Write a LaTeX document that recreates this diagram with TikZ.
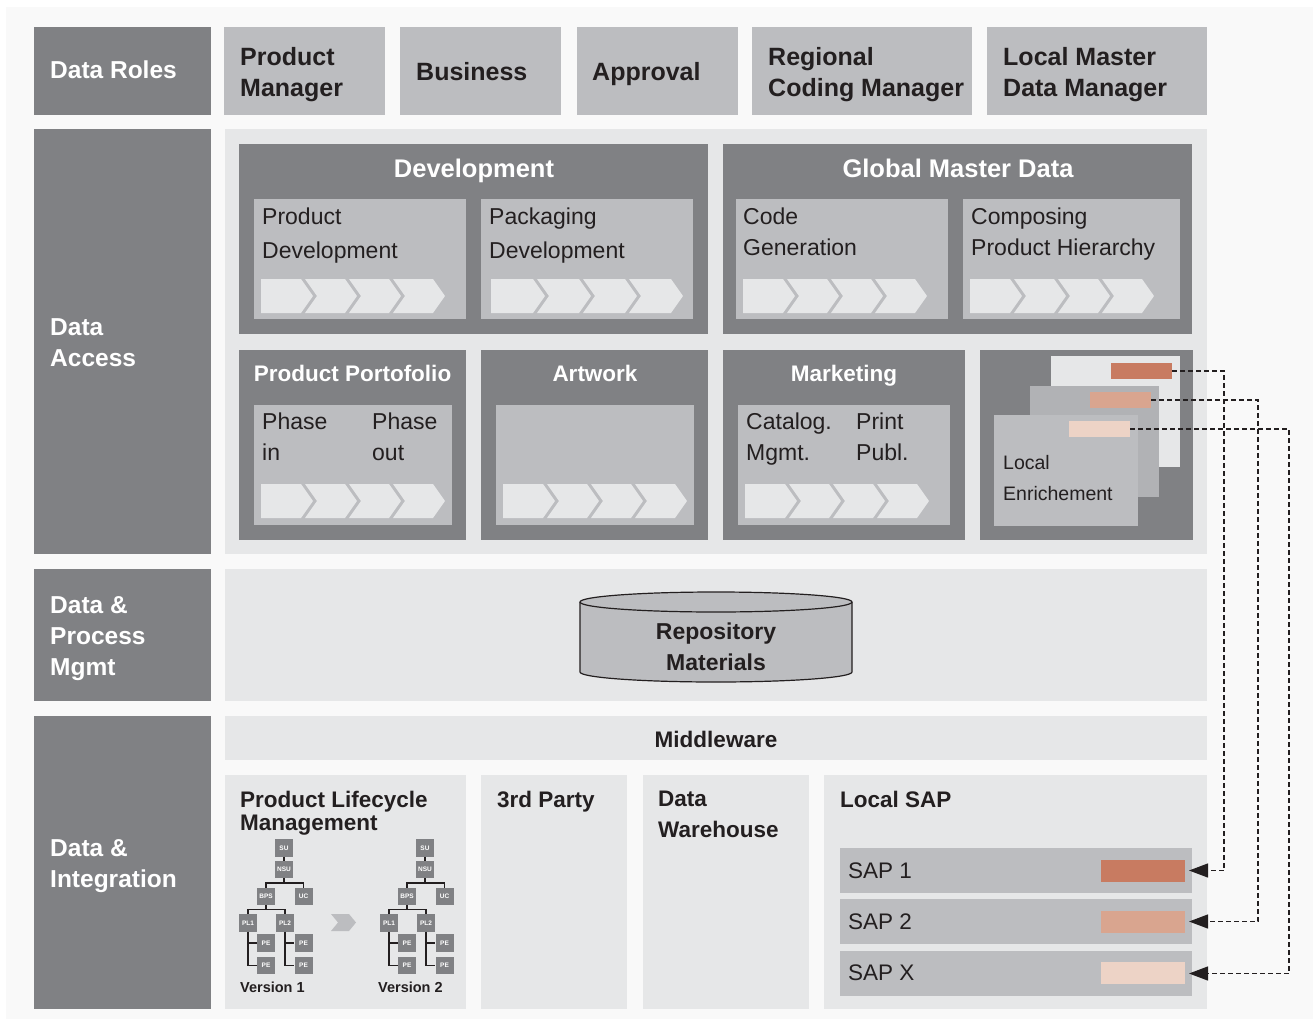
\documentclass[tikz,border=0pt]{standalone}
\usepackage{fontspec}
\setmainfont{Liberation Sans}
\usetikzlibrary{arrows.meta}

\definecolor{darkgrey}{HTML}{808184}
\definecolor{midgrey}{HTML}{BCBDC0}
\definecolor{sheetgrey}{HTML}{B1B2B5}
\definecolor{lightgrey}{HTML}{E6E7E8}
\definecolor{pagegrey}{HTML}{F9F9F9}
\definecolor{ink}{HTML}{231F20}
\definecolor{rustA}{HTML}{C87B61}
\definecolor{rustB}{HTML}{D9A58F}
\definecolor{rustC}{HTML}{EDD3C6}

\newcommand{\fsz}[2]{\fontsize{#1}{#2}\selectfont}

% row of four process chevrons: left x, top y, step
\newcommand{\chevrons}[3]{%
  \foreach \k in {0,1,2,3}{%
    \pgfmathsetmacro{\cx}{#1+#3*\k}%
    \ifnum\k=0
      \fill[lightgrey] (\cx,#2) -- ++(#3-4,0) -- ++(12,17) -- ++(-12,17) -- (\cx,#2+34) -- cycle;
    \else
      \fill[lightgrey] (\cx,#2) -- ++(#3-4,0) -- ++(12,17) -- ++(-12,17) -- (\cx,#2+34) -- ++(12,-17) -- cycle;
    \fi
  }}

% small product hierarchy: name prefix, x shift
\newcommand{\plmtree}[2]{%
  \begin{scope}[xshift=#2]
    \begin{scope}[every node/.style={tbox}]
      \node (#1su)  at (284,848)   {SU};
      \node (#1nsu) at (284,869.5) {NSU};
      \node (#1bps) at (266,896.5) {BPS};
      \node (#1uc)  at (303.5,896.5) {UC};
      \node (#1pla) at (248,923)   {PL1};
      \node (#1plb) at (285,923)   {PL2};
      \node (#1pea) at (266,943)   {PE};
      \node (#1peb) at (266,965.5) {PE};
      \node (#1pec) at (303.5,943) {PE};
      \node (#1ped) at (303.5,965.5) {PE};
    \end{scope}
    \draw[tline] (#1su) -- (#1nsu);
    \draw[tline] (#1nsu.south) -- ++(0,4.5) -| (#1bps.north);
    \draw[tline] (#1nsu.south) -- ++(0,4.5) -| (#1uc.north);
    \draw[tline] (#1bps.south) -- ++(0,4) -| (#1pla.north);
    \draw[tline] (#1bps.south) -- ++(0,4) -| (#1plb.north);
    \draw[tline] (#1pla.south) |- (#1pea.west);
    \draw[tline] (#1pla.south) |- (#1peb.west);
    \draw[tline] (#1plb.south) |- (#1pec.west);
    \draw[tline] (#1plb.south) |- (#1ped.west);
  \end{scope}}

\begin{document}
\begin{tikzpicture}[x=1pt,y=-1pt,
    lbl/.style={anchor=north west, inner sep=0pt, align=left, text=ink},
    title/.style={anchor=base, inner sep=0pt, text=white},
    tbox/.style={fill=darkgrey, text=white, inner sep=0pt, minimum width=18pt,
      minimum height=17.5pt, font=\fsz{6.5}{7}\bfseries},
    tline/.style={draw=ink, line width=1.3pt},
    bar/.style={inner sep=0pt, outer sep=0pt},
    saprow/.style={fill=midgrey, inner sep=0pt, outer sep=0pt, minimum width=352pt, minimum height=45pt},
    link/.style={draw=ink, line width=1.2pt, dash pattern=on 5pt off 3pt,
      -{Triangle[length=19pt,width=14pt]}, shorten >=-3pt}]

  \useasboundingbox (0,0) rectangle (1313,1019);
  \fill[pagegrey] (6,7) rectangle (1313,1019);

  % row headers
  \fill[darkgrey] (34,27) rectangle (211,115);
  \fill[darkgrey] (34,129) rectangle (211,554);
  \fill[darkgrey] (34,569) rectangle (211,701);
  \fill[darkgrey] (34,716) rectangle (211,1009);
  \begin{scope}[every node/.style={lbl, text=white, font=\fsz{24.5}{31}\bfseries}]
    \node (roles)   at (50,61)  {Data Roles};
    \node (access)  at (50,318) {Data\\Access};
    \node (process) at (50,596) {Data \&\\Process\\Mgmt};
    \node (integr)  at (50,839) {Data \&\\Integration};
  \end{scope}

  % data roles
  \fill[midgrey] (224,27) rectangle (385,115);
  \fill[midgrey] (400,27) rectangle (561,115);
  \fill[midgrey] (577,27) rectangle (738,115);
  \fill[midgrey] (752,27) rectangle (972,115);
  \fill[midgrey] (987,27) rectangle (1207,115);
  \begin{scope}[every node/.style={lbl, font=\fsz{25}{31}\bfseries}]
    \node (pm)   at (240,47)  {Product\\Manager};
    \node (bus)  at (416,62)  {Business};
    \node (appr) at (592,62)  {Approval};
    \node (rcm)  at (768,47)  {Regional\\Coding Manager};
    \node (lmdm) at (1003,47) {Local Master\\Data Manager};
  \end{scope}

  % data access
  \fill[lightgrey] (225,129) rectangle (1207,554);
  \fill[darkgrey] (239,144) rectangle (708,334);
  \fill[darkgrey] (723,144) rectangle (1192,334);
  \fill[darkgrey] (239,350) rectangle (466,540);
  \fill[darkgrey] (481,350) rectangle (708,540);
  \fill[darkgrey] (723,350) rectangle (965,540);
  \fill[darkgrey] (980,350) rectangle (1193,540);

  \fill[midgrey] (254,199) rectangle (466,319);
  \fill[midgrey] (481,199) rectangle (693,319);
  \fill[midgrey] (736,199) rectangle (948,319);
  \fill[midgrey] (963,199) rectangle (1180,319);
  \fill[midgrey] (254,405) rectangle (452,525);
  \fill[midgrey] (496,405) rectangle (694,525);
  \fill[midgrey] (738,405) rectangle (950,525);

  \chevrons{261}{279}{44}
  \chevrons{491}{279}{46}
  \chevrons{743}{279}{44}
  \chevrons{970}{279}{44}
  \chevrons{261}{484}{44}
  \chevrons{503}{484}{44}
  \chevrons{745}{484}{44}

  \begin{scope}[every node/.style={title, font=\fsz{25.5}{31}\bfseries}]
    \node (dev) at (474,178) {Development};
    \node (gmd) at (958,178) {Global Master Data};
  \end{scope}
  \begin{scope}[every node/.style={title, font=\fsz{22.5}{27}\bfseries}]
    \node (pp)  at (352.5,381) {Product Portofolio};
    \node (art) at (595,381)   {Artwork};
    \node (mkt) at (844,381)   {Marketing};
  \end{scope}

  \begin{scope}[every node/.style={lbl, font=\fsz{23}{34}}]
    \node (pdev) at (262,208) {Product\\Development};
    \node (kdev) at (489,208) {Packaging\\Development};
  \end{scope}
  \begin{scope}[every node/.style={lbl, font=\fsz{23}{31}}]
    \node (cgen)   at (743,208) {Code\\Generation};
    \node (hier)   at (971,208) {Composing\\Product Hierarchy};
    \node (phin)   at (262,413) {Phase\\in};
    \node (phout)  at (372,413) {Phase\\out};
    \node (catlg)  at (746,413) {Catalog.\\Mgmt.};
    \node (print)  at (856,413) {Print\\Publ.};
  \end{scope}

  % local enrichment sheets
  \fill[lightgrey] (1051,356) rectangle (1180,467);
  \fill[sheetgrey] (1030,386) rectangle (1159,497);
  \fill[midgrey] (994,415) rectangle (1138,526);
  \node[bar, fill=rustA, minimum width=61pt, minimum height=16pt] (ebA) at (1141.5,371) {};
  \node[bar, fill=rustB, minimum width=61pt, minimum height=16pt] (ebB) at (1120.5,400) {};
  \node[bar, fill=rustC, minimum width=61pt, minimum height=16pt] (ebC) at (1099.5,429) {};
  \node[lbl, font=\fsz{19.5}{31}] (enrich) at (1003,455) {Local\\Enrichement};

  % data & process
  \fill[lightgrey] (225,569) rectangle (1207,701);
  \filldraw[fill=midgrey, draw=ink, line width=1.2pt] (580,602) -- (580,672)
    arc[start angle=180, end angle=0, x radius=136, y radius=10] -- (852,602);
  \filldraw[fill=midgrey, draw=ink, line width=1.2pt] (716,602) ellipse [x radius=136, y radius=10];
  \node[anchor=north, inner sep=0pt, align=center, text=ink, font=\fsz{23}{31}\bfseries]
    (repo) at (716,623) {Repository\\Materials};

  % data & integration
  \fill[lightgrey] (225,716) rectangle (1207,760);
  \node[title, text=ink, font=\fsz{22.5}{27}\bfseries] (mw) at (716,747) {Middleware};
  \fill[lightgrey] (225,775) rectangle (466,1009);
  \fill[lightgrey] (481,775) rectangle (627,1009);
  \fill[lightgrey] (643,775) rectangle (809,1009);
  \fill[lightgrey] (824,775) rectangle (1207,1009);
  \begin{scope}[every node/.style={lbl, font=\fsz{22.5}{31}\bfseries}]
    \node[font=\fsz{22.5}{23}\bfseries] (plm) at (240,791) {Product Lifecycle\\Management};
    \node (third) at (497,791) {3rd Party};
    \node (dwh)   at (658,791) {Data\\Warehouse};
    \node (lsap)  at (840,791) {Local SAP};
  \end{scope}

  \plmtree{va}{0}
  \plmtree{vb}{141}
  \fill[midgrey] (331,914) -- (349,914) -- (356,922.5) -- (349,931) -- (331,931) -- (338,922.5) -- cycle;
  \begin{scope}[every node/.style={anchor=west, inner sep=0pt, text=ink, font=\fsz{14.5}{16}\bfseries}]
    \node (vera) at (240,987) {Version 1};
    \node (verb) at (378,987) {Version 2};
  \end{scope}

  \node[saprow] (sapA) at (1016,870.5) {};
  \node[saprow] (sapB) at (1016,921.5) {};
  \node[saprow] (sapC) at (1016,973.5) {};
  \node[bar, fill=rustA, minimum width=84pt, minimum height=22pt] (sbA) at (1143,871) {};
  \node[bar, fill=rustB, minimum width=84pt, minimum height=22pt] (sbB) at (1143,922) {};
  \node[bar, fill=rustC, minimum width=84pt, minimum height=22pt] (sbC) at (1143,973) {};
  \begin{scope}[every node/.style={anchor=west, inner sep=0pt, text=ink, font=\fsz{22.5}{27}}]
    \node (sapAl) at (848,871) {SAP 1};
    \node (sapBl) at (848,922) {SAP 2};
    \node (sapCl) at (848,973) {SAP X};
  \end{scope}

  % enrichment feeds the local SAP systems
  \coordinate (laneA) at (1224,0);
  \coordinate (laneB) at (1258,0);
  \coordinate (laneC) at (1289,0);
  \draw[link] (ebA.east) -- (ebA.east -| laneA) |- (sapA.east);
  \draw[link] (ebB.east) -- (ebB.east -| laneB) |- (sapB.east);
  \draw[link] (ebC.east) -- (ebC.east -| laneC) |- (sapC.east);

\end{tikzpicture}
\end{document}
